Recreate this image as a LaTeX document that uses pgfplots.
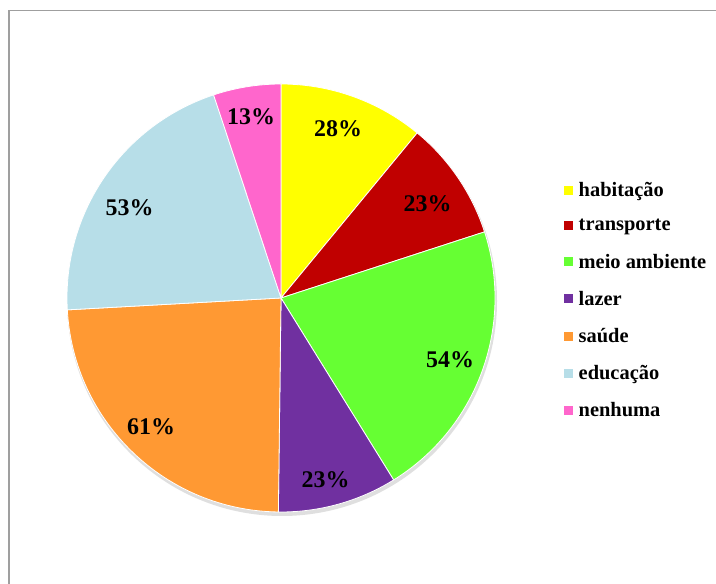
\documentclass[border=0pt]{standalone}
\usepackage{pgfplots}
\pgfplotsset{compat=1.18}
\usepackage{fontspec}
\setmainfont{Liberation Serif}
\definecolor{cHab}{HTML}{FFFF00}
\definecolor{cTra}{HTML}{C00000}
\definecolor{cMei}{HTML}{66FF33}
\definecolor{cLaz}{HTML}{7030A0}
\definecolor{cSau}{HTML}{FF9933}
\definecolor{cEdu}{HTML}{B7DEE8}
\definecolor{cNen}{HTML}{FF66CC}
% data (percent of respondents)
\def\vA{28}\def\vB{23}\def\vC{54}\def\vD{23}\def\vE{61}\def\vF{53}\def\vG{13}
\begin{document}
\begin{tikzpicture}
\pgfmathsetmacro\tot{\vA+\vB+\vC+\vD+\vE+\vF+\vG}
\pgfmathsetmacro\aA{90}
\pgfmathsetmacro\aB{\aA-\vA/\tot*360}
\pgfmathsetmacro\aC{\aB-\vB/\tot*360}
\pgfmathsetmacro\aD{\aC-\vC/\tot*360}
\pgfmathsetmacro\aE{\aD-\vD/\tot*360}
\pgfmathsetmacro\aF{\aE-\vE/\tot*360}
\pgfmathsetmacro\aG{\aF-\vF/\tot*360}
\pgfmathsetmacro\aH{\aG-\vG/\tot*360}
\begin{axis}[
  x=1bp, y=1bp, xmin=0, xmax=716, ymin=0, ymax=584,
  hide axis, clip=false,
  legend image code/.code={\fill[#1, draw=none] (0bp,-4.5bp) rectangle (9bp,4.5bp); \path[draw=none, fill=none] (0bp,0bp) -- (12.5bp,0bp);},
  legend style={at={(axis cs:564,404)}, anchor=north west, draw=none, fill=none,
    font=\bfseries\fontsize{20.5}{22}\selectfont, row sep=17.5bp, inner sep=0pt,
    cells={anchor=west}},
]
\addlegendimage{fill=cHab}
\addlegendimage{fill=cTra}
\addlegendimage{fill=cMei}
\addlegendimage{fill=cLaz}
\addlegendimage{fill=cSau}
\addlegendimage{fill=cEdu}
\addlegendimage{fill=cNen}
\legend{habitação, transporte, meio ambiente, lazer, saúde, educação, nenhuma}
\coordinate (BL) at (axis cs:0,0);
\coordinate (TR) at (axis cs:716,584);
% frame
\draw[gray!75, line width=1.6bp] (axis cs:8.7,0) -- (axis cs:8.7,573.5) -- (axis cs:716,573.5);
% shadow
\fill[gray!25] (axis cs:282,283) circle[radius=215bp];
% slices
\filldraw[fill=cHab, draw=white, line width=0.8bp] (axis cs:281,286) -- ++(\aA:214bp) arc[start angle=\aA, end angle=\aB, radius=214bp] -- cycle;
\filldraw[fill=cTra, draw=white, line width=0.8bp] (axis cs:281,286) -- ++(\aB:214bp) arc[start angle=\aB, end angle=\aC, radius=214bp] -- cycle;
\filldraw[fill=cMei, draw=white, line width=0.8bp] (axis cs:281,286) -- ++(\aC:214bp) arc[start angle=\aC, end angle=\aD, radius=214bp] -- cycle;
\filldraw[fill=cLaz, draw=white, line width=0.8bp] (axis cs:281,286) -- ++(\aD:214bp) arc[start angle=\aD, end angle=\aE, radius=214bp] -- cycle;
\filldraw[fill=cSau, draw=white, line width=0.8bp] (axis cs:281,286) -- ++(\aE:214bp) arc[start angle=\aE, end angle=\aF, radius=214bp] -- cycle;
\filldraw[fill=cEdu, draw=white, line width=0.8bp] (axis cs:281,286) -- ++(\aF:214bp) arc[start angle=\aF, end angle=\aG, radius=214bp] -- cycle;
\filldraw[fill=cNen, draw=white, line width=0.8bp] (axis cs:281,286) -- ++(\aG:214bp) arc[start angle=\aG, end angle=\aH, radius=214bp] -- cycle;
% labels
\begin{scope}[every node/.style={font=\bfseries\fontsize{24}{26}\selectfont, inner sep=0pt}]
\node at (axis cs:338,455) {28\%};
\node at (axis cs:427.5,380) {23\%};
\node at (axis cs:450,224) {54\%};
\node at (axis cs:325.5,104) {23\%};
\node at (axis cs:151,157.5) {61\%};
\node at (axis cs:129.5,376.5) {53\%};
\node at (axis cs:251,467) {13\%};
\end{scope}
\end{axis}
\pgfresetboundingbox
\path[use as bounding box] (BL) rectangle (TR);
\end{tikzpicture}
\end{document}
